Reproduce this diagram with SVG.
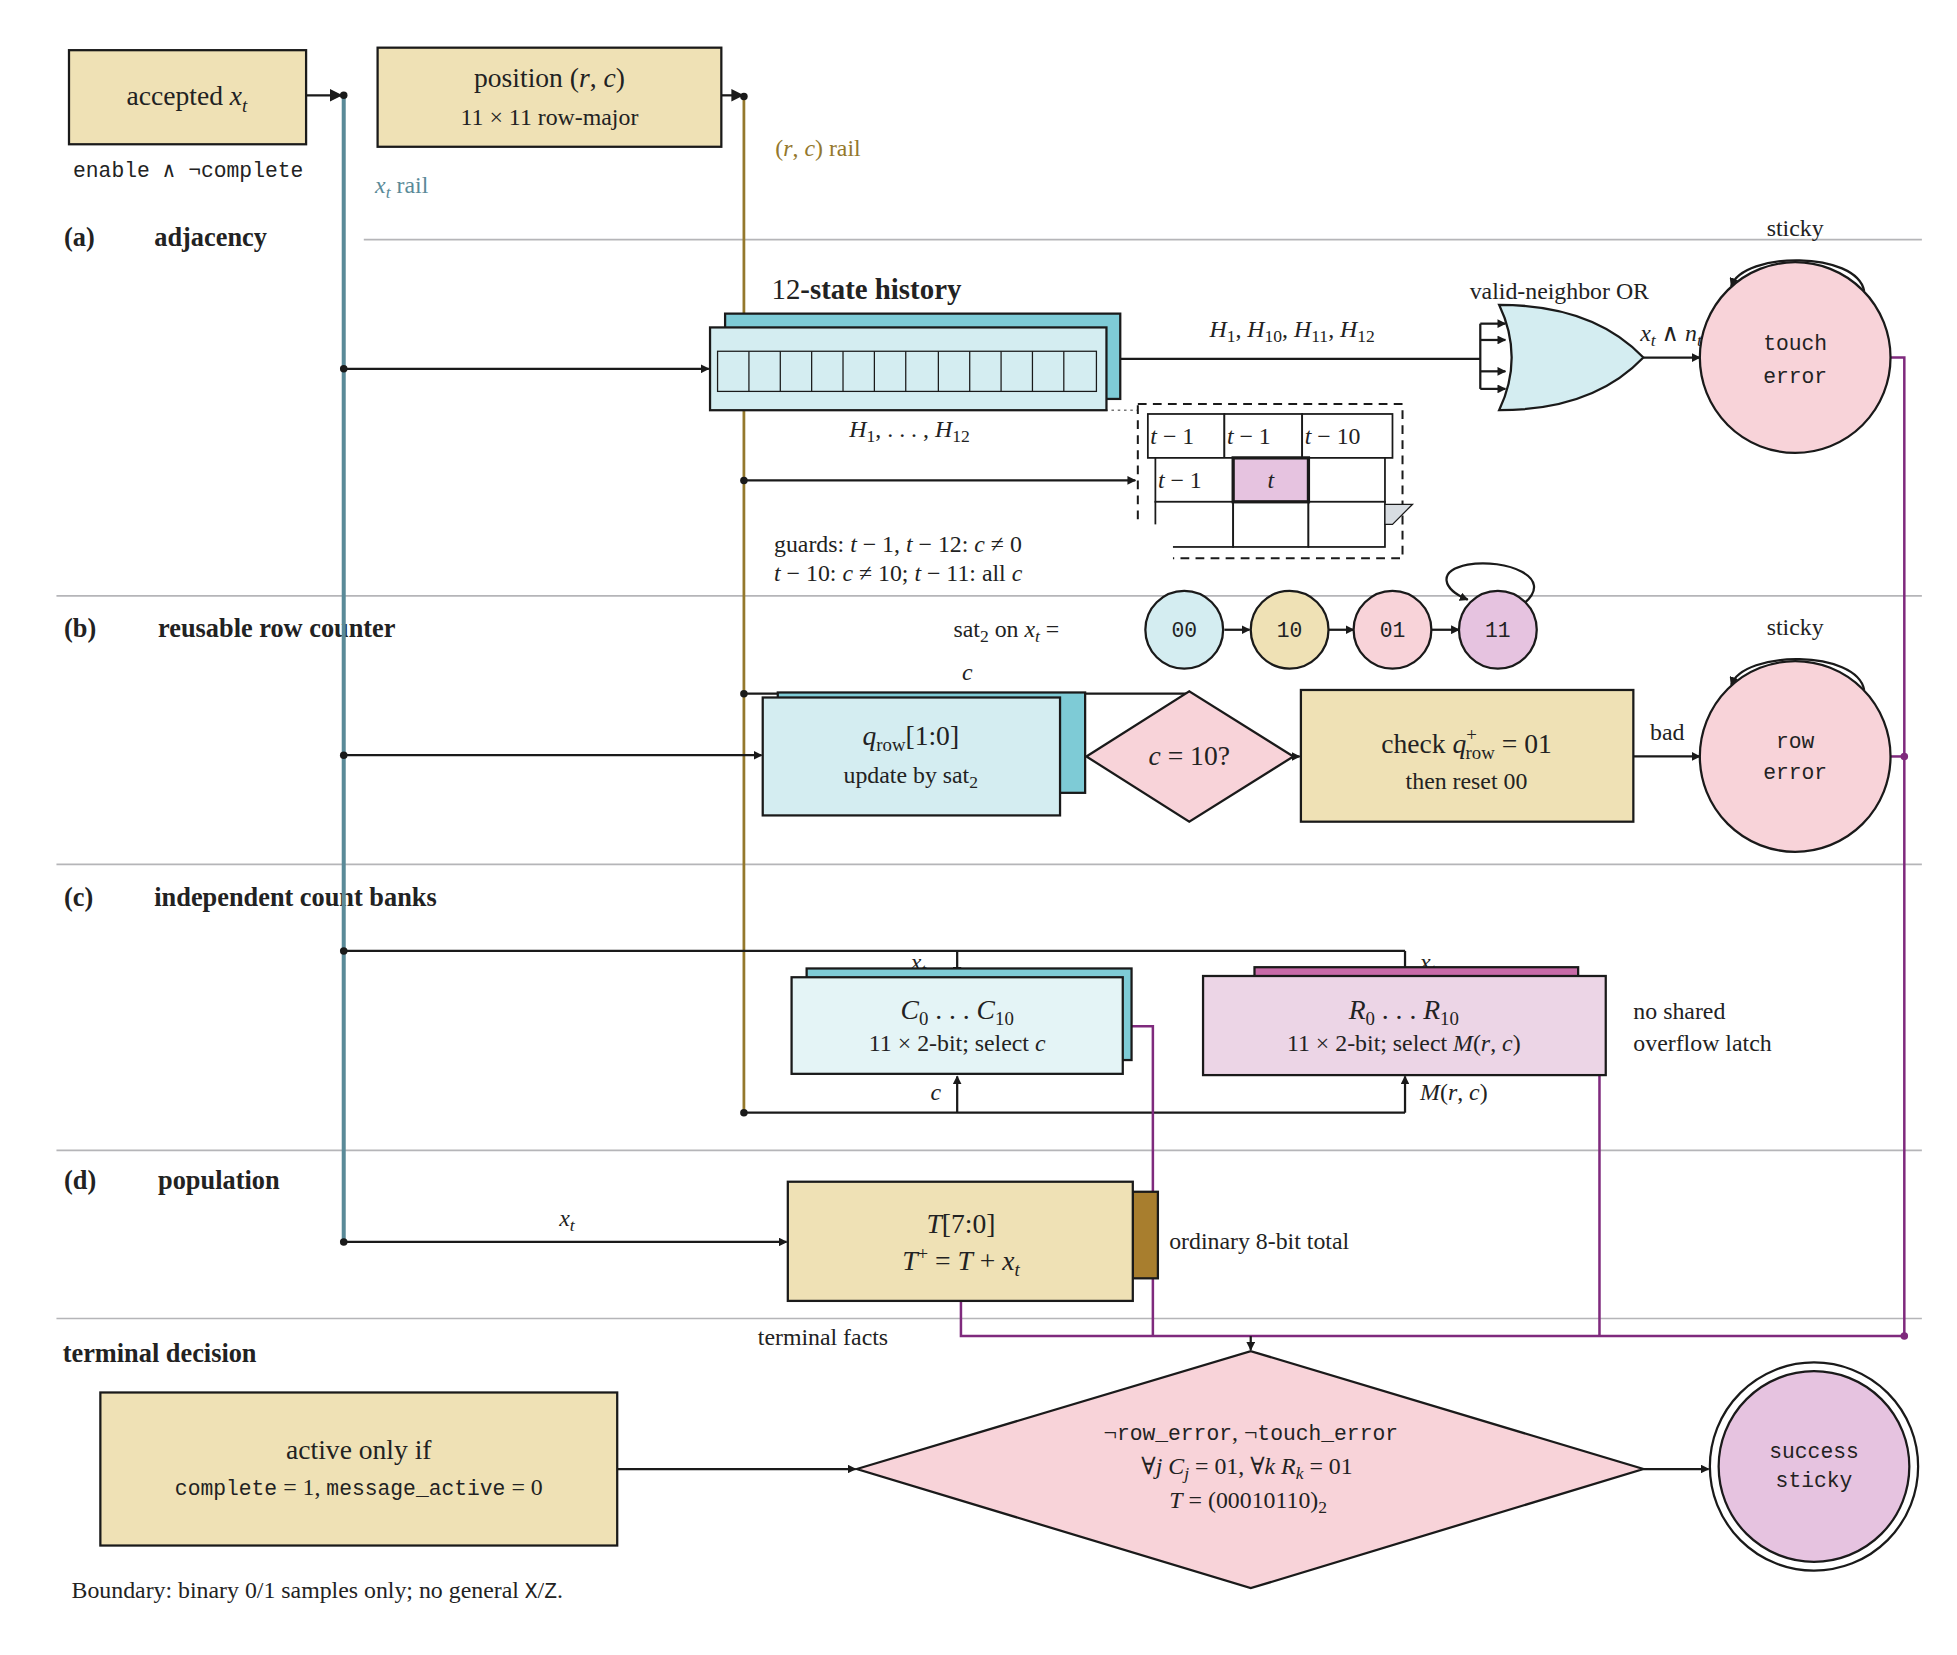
<svg xmlns="http://www.w3.org/2000/svg" width="1957" height="1655" viewBox="0 0 1957 1655">
<defs>
<marker id="ah" viewBox="0 0 10 10" refX="9" refY="5" markerWidth="7" markerHeight="7" markerUnits="userSpaceOnUse" orient="auto"><path d="M0,0 L10,5 L0,10 z" fill="#1a1a1a"/></marker>
<marker id="ahs" viewBox="0 0 10 10" refX="9" refY="5" markerWidth="10" markerHeight="10" markerUnits="userSpaceOnUse" orient="auto"><path d="M0,0 L10,5 L0,10 z" fill="#1a1a1a"/></marker>
<style>
text{font-family:"Liberation Serif","DejaVu Serif",serif;font-size:19px;fill:#222}
.m{font-family:"Liberation Mono","DejaVu Sans Mono",monospace;font-size:17px}
.b{font-weight:bold;font-size:21px}
.i{font-style:italic}
.c{text-anchor:middle}
.ln{stroke:#1a1a1a;stroke-width:1.8;fill:none}
.ar{stroke:#1a1a1a;stroke-width:1.8;fill:none;marker-end:url(#ah)}
.bx{stroke:#1a1a1a;stroke-width:1.8}
.sep{stroke:#b5b5b8;stroke-width:1.3}
.pu{stroke:#7f2a7d;stroke-width:2;fill:none}
.tan{fill:#efe1b5}.lb{fill:#d4edf1}.db{fill:#7ecbd6}.pk{fill:#f8d3d9}.vi{fill:#e6c3e0}
</style>
</defs>
<rect width="1957" height="1655" fill="#fff"/>
<g transform="scale(1.25449)">
<g id="separators">
<line class="sep" x1="290" y1="191" x2="1532" y2="191"/>
<line class="sep" x1="45" y1="475" x2="1532" y2="475"/>
<line class="sep" x1="45" y1="689" x2="1532" y2="689"/>
<line class="sep" x1="45" y1="917" x2="1532" y2="917"/>
<line class="sep" x1="45" y1="1051" x2="1532" y2="1051"/>
</g>
<g id="section-labels">
<text class="b" x="51" y="196">(a)<tspan x="123">adjacency</tspan></text>
<text class="b" x="51" y="508">(b)<tspan x="126">reusable row counter</tspan></text>
<text class="b" x="51" y="722">(c)<tspan x="123">independent count banks</tspan></text>
<text class="b" x="51" y="948">(d)<tspan x="126">population</tspan></text>
<text class="b" x="50" y="1086">terminal decision</text>
</g>
<g id="connectors">
<line x1="274" y1="76" x2="274" y2="990" stroke="#5a8a98" stroke-width="3.2"/>
<line x1="593" y1="77" x2="593" y2="887" stroke="#94782c" stroke-width="2.2"/>
<line class="ar" x1="244" y1="76" x2="272" y2="76" style="marker-end:url(#ahs)"/>
<line class="ar" x1="575" y1="76" x2="592" y2="76" style="marker-end:url(#ahs)"/>
<circle cx="274" cy="76" r="3" fill="#1a1a1a"/><circle cx="593" cy="77" r="3" fill="#1a1a1a"/>
<line class="ar" x1="274" y1="294" x2="565" y2="294"/><circle cx="274" cy="294" r="3" fill="#1a1a1a"/>
<line class="ln" x1="882" y1="286" x2="1180" y2="286"/>
<path class="ln" d="M1180,258 V310"/>
<line class="ar" x1="1180" y1="258" x2="1200" y2="258"/>
<line class="ar" x1="1180" y1="271" x2="1200" y2="271"/>
<line class="ar" x1="1180" y1="296" x2="1200" y2="296"/>
<line class="ar" x1="1180" y1="310" x2="1200" y2="310"/>
<line class="ar" x1="1310" y1="285" x2="1355" y2="285"/>
<path class="ar" d="M1486,232 C1480,200 1390,200 1380,228"/>
<path class="ar" d="M1486,550 C1480,518 1390,518 1380,546"/>
<line x1="866" y1="327" x2="907" y2="327" stroke="#777" stroke-width="1.2" stroke-dasharray="2,3"/>
<line class="ar" x1="593" y1="383" x2="905" y2="383"/><circle cx="593" cy="383" r="3" fill="#1a1a1a"/>
<line class="ar" x1="976" y1="502" x2="996" y2="502"/>
<line class="ar" x1="1059" y1="502" x2="1079" y2="502"/>
<line class="ar" x1="1141" y1="502" x2="1163" y2="502"/>
<path class="ar" d="M1215,481 C1240,460 1200,445 1170,450 C1145,455 1150,470 1170,478"/>
<path class="ar" d="M593,553 H948 V551"/><circle cx="593" cy="553" r="3" fill="#1a1a1a"/>
<line class="ar" x1="274" y1="602" x2="607" y2="602"/><circle cx="274" cy="602" r="3" fill="#1a1a1a"/>
<line class="ar" x1="845" y1="602" x2="865" y2="602"/>
<line class="ar" x1="1031" y1="603" x2="1036" y2="603"/>
<line class="ar" x1="1302" y1="603" x2="1355" y2="603"/>
<path class="ln" d="M274,758 H1120"/><circle cx="274" cy="758" r="3" fill="#1a1a1a"/>
<line class="ar" x1="763" y1="758" x2="763" y2="777"/>
<line class="ar" x1="1120" y1="758" x2="1120" y2="777"/>
<path class="ln" d="M593,887 H1120"/><circle cx="593" cy="887" r="3" fill="#1a1a1a"/>
<line class="ar" x1="763" y1="887" x2="763" y2="858"/>
<line class="ar" x1="1120" y1="887" x2="1120" y2="858"/>
<line class="ar" x1="274" y1="990" x2="627" y2="990"/><circle cx="274" cy="990" r="3" fill="#1a1a1a"/>
<path class="pu" d="M1507,285 H1518 V1065"/>
<path class="pu" d="M1507,603 H1518"/><circle cx="1518" cy="603" r="3" fill="#7f2a7d"/>
<path class="pu" d="M895,818 H919 V1065"/>
<path class="pu" d="M1280,818 H1275 V1065"/>
<path class="pu" d="M766,1037 V1065 H1518"/><circle cx="1518" cy="1065" r="3" fill="#7f2a7d"/>
<line class="ar" x1="997" y1="1065" x2="997" y2="1076"/>
<line class="ar" x1="492" y1="1171" x2="682" y2="1171"/>
<line class="ar" x1="1310" y1="1171" x2="1362" y2="1171"/>
</g>
<g id="accepted"><rect class="bx tan" x="55" y="40" width="189" height="75"/><text class="c" x="149" y="84" style="font-size:22px">accepted <tspan class="i">x</tspan><tspan class="i" dy="5" style="font-size:15px">t</tspan></text>
<text class="m c" x="150" y="141">enable ∧ ¬complete</text></g>
<g id="position"><rect class="bx tan" x="301" y="38" width="274" height="79"/><text class="c" x="438" y="69" style="font-size:22px">position (<tspan class="i">r</tspan>, <tspan class="i">c</tspan>)</text><text class="c" x="438" y="100">11 × 11 row-major</text></g>
<text x="618" y="124" fill="#94782c" style="fill:#94782c">(<tspan class="i">r</tspan>, <tspan class="i">c</tspan>) rail</text>
<text x="299" y="154" style="fill:#5a8a98"><tspan class="i">x</tspan><tspan class="i" dy="4" style="font-size:14px">t</tspan><tspan dy="-4"> rail</tspan></text>
<g id="history">
<text x="615" y="238" style="font-size:23px">12<tspan font-weight="bold">-state history</tspan></text>
<rect class="bx db" x="578" y="250" width="315" height="68"/>
<rect class="bx lb" x="566" y="261" width="316" height="66"/>
<g stroke="#1a1a1a" stroke-width="1" fill="none"><rect x="572" y="280" width="302" height="32"/>
<path d="M597,280V312M622,280V312M647,280V312M672,280V312M697,280V312M722,280V312M748,280V312M773,280V312M798,280V312M823,280V312M848,280V312"/></g>
<text class="c" x="725" y="348"><tspan class="i">H</tspan><tspan dy="4" style="font-size:14px">1</tspan><tspan dy="-4">, . . . , </tspan><tspan class="i">H</tspan><tspan dy="4" style="font-size:14px">12</tspan></text>
<text class="c" x="1030" y="269"><tspan class="i">H</tspan><tspan dy="4" style="font-size:14px">1</tspan><tspan dy="-4">, </tspan><tspan class="i">H</tspan><tspan dy="4" style="font-size:14px">10</tspan><tspan dy="-4">, </tspan><tspan class="i">H</tspan><tspan dy="4" style="font-size:14px">11</tspan><tspan dy="-4">, </tspan><tspan class="i">H</tspan><tspan dy="4" style="font-size:14px">12</tspan></text>
</g>
<g id="or-gate"><path class="bx lb" d="M1195,243 Q1270,243 1310,285 Q1270,327 1195,327 Q1215,285 1195,243 z"/>
<text class="c" x="1243" y="238">valid-neighbor OR</text>
<text class="c" x="1332" y="272"><tspan class="i">x</tspan><tspan class="i" dy="4" style="font-size:14px">t</tspan><tspan dy="-4"> ∧ </tspan><tspan class="i">n</tspan><tspan class="i" dy="4" style="font-size:14px">t</tspan></text></g>
<g id="touch-error"><circle class="bx pk" cx="1431" cy="285" r="76"/><text class="m c" x="1431" y="279">touch</text><text class="m c" x="1431" y="305">error</text><text class="c" x="1431" y="188">sticky</text></g>
<g id="neighborhood">
<rect x="907" y="322" width="211" height="123" fill="none" stroke="#1a1a1a" stroke-width="1.6" stroke-dasharray="7,5"/>
<g stroke="#1a1a1a" stroke-width="1.4" fill="#fff">
<rect x="915" y="330" width="61" height="35"/><rect x="976" y="330" width="62" height="35"/><rect x="1038" y="330" width="72" height="35"/>
<rect x="921" y="365" width="62" height="35"/><rect x="1043" y="365" width="61" height="35"/>
<rect x="921" y="400" width="62" height="36"/><rect x="983" y="400" width="60" height="36"/><rect x="1043" y="400" width="61" height="36"/>
</g>
<rect x="983" y="365" width="60" height="35" class="vi" stroke="#1a1a1a" stroke-width="2.6"/>
<path d="M1104,402 H1126 L1110,418 H1104 z" fill="#d8dde2" stroke="#1a1a1a" stroke-width="1"/>
<text x="917" y="354"><tspan class="i">t</tspan> − 1</text><text x="978" y="354"><tspan class="i">t</tspan> − 1</text><text x="1040" y="354"><tspan class="i">t</tspan> − 10</text>
<text x="923" y="389"><tspan class="i">t</tspan> − 1</text><text class="c i" x="1013" y="389">t</text>
<rect x="615" y="418" width="320" height="48" fill="#fff"/>
<text x="617" y="440">guards: <tspan class="i">t</tspan> − 1, <tspan class="i">t</tspan> − 12: <tspan class="i">c</tspan> ≠ 0</text>
<text x="617" y="463"><tspan class="i">t</tspan> − 10: <tspan class="i">c</tspan> ≠ 10; <tspan class="i">t</tspan> − 11: all <tspan class="i">c</tspan></text>
</g>
<g id="sat2">
<text x="760" y="508">sat<tspan dy="4" style="font-size:14px">2</tspan><tspan dy="-4"> on </tspan><tspan class="i">x</tspan><tspan class="i" dy="4" style="font-size:14px">t</tspan><tspan dy="-4"> =</tspan></text>
<circle class="bx lb" cx="944" cy="502" r="31"/><text class="m c" x="944" y="508">00</text>
<circle class="bx tan" cx="1028" cy="502" r="31"/><text class="m c" x="1028" y="508">10</text>
<circle class="bx pk" cx="1110" cy="502" r="31"/><text class="m c" x="1110" y="508">01</text>
<circle class="bx vi" cx="1194" cy="502" r="31"/><text class="m c" x="1194" y="508">11</text>
</g>
<text class="i c" x="771" y="542">c</text>
<g id="qrow"><rect class="bx db" x="620" y="552" width="245" height="80"/><rect class="bx lb" x="608" y="556" width="237" height="94"/>
<text class="c" x="726" y="594" style="font-size:22px"><tspan class="i">q</tspan><tspan dy="5" style="font-size:15px">row</tspan><tspan dy="-5">[1:0]</tspan></text>
<text class="c" x="726" y="624">update by sat<tspan dy="4" style="font-size:14px">2</tspan></text></g>
<g id="c10"><path class="bx pk" d="M866,603 L948,551 L1031,603 L948,655 z"/><text class="c" x="948" y="610" style="font-size:22px"><tspan class="i">c</tspan> = 10?</text></g>
<g id="check"><rect class="bx tan" x="1037" y="550" width="265" height="105"/>
<text class="c" x="1169" y="600" style="font-size:22px">check <tspan class="i">q</tspan><tspan dy="-9" style="font-size:15px">+</tspan><tspan dx="-9" dy="14" style="font-size:15px">row</tspan><tspan dy="-5"> = 01</tspan></text>
<text class="c" x="1169" y="629">then reset 00</text></g>
<text class="c" x="1329" y="590">bad</text>
<g id="row-error"><circle class="bx pk" cx="1431" cy="603" r="76"/><text class="m c" x="1431" y="596">row</text><text class="m c" x="1431" y="621">error</text><text class="c" x="1431" y="506">sticky</text></g>
<text x="726" y="773"><tspan class="i">x</tspan><tspan class="i" dy="4" style="font-size:14px">t</tspan></text>
<text x="1132" y="773"><tspan class="i">x</tspan><tspan class="i" dy="4" style="font-size:14px">t</tspan></text>
<g id="cbank"><rect class="bx db" x="643" y="772" width="259" height="73"/><rect class="bx" x="631" y="779" width="264" height="77" fill="#e4f4f6"/>
<text class="c" x="763" y="812" style="font-size:22px"><tspan class="i">C</tspan><tspan dy="5" style="font-size:15px">0</tspan><tspan dy="-5"> . . . </tspan><tspan class="i">C</tspan><tspan dy="5" style="font-size:15px">10</tspan></text>
<text class="c" x="763" y="838">11 × 2-bit; select <tspan class="i">c</tspan></text></g>
<g id="rbank"><rect class="bx" x="1000" y="771" width="258" height="12" fill="#c86aa8"/><rect class="bx" x="959" y="778" width="321" height="79" fill="#ecd5e6"/>
<text class="c" x="1119" y="812" style="font-size:22px"><tspan class="i">R</tspan><tspan dy="5" style="font-size:15px">0</tspan><tspan dy="-5"> . . . </tspan><tspan class="i">R</tspan><tspan dy="5" style="font-size:15px">10</tspan></text>
<text class="c" x="1119" y="838">11 × 2-bit; select <tspan class="i">M</tspan>(<tspan class="i">r</tspan>, <tspan class="i">c</tspan>)</text></g>
<text x="1302" y="812">no shared</text><text x="1302" y="838">overflow latch</text>
<text class="i c" x="746" y="877">c</text>
<text x="1132" y="877"><tspan class="i">M</tspan>(<tspan class="i">r</tspan>, <tspan class="i">c</tspan>)</text>
<text class="c" x="452" y="977"><tspan class="i">x</tspan><tspan class="i" dy="4" style="font-size:14px">t</tspan></text>
<g id="total"><rect class="bx" x="903" y="950" width="20" height="69" fill="#a87e2e"/><rect class="bx tan" x="628" y="942" width="275" height="95"/>
<text class="c" x="766" y="983" style="font-size:22px"><tspan class="i">T</tspan>[7:0]</text>
<text class="c" x="766" y="1012" style="font-size:22px"><tspan class="i">T</tspan><tspan dy="-8" style="font-size:15px">+</tspan><tspan dy="8"> = </tspan><tspan class="i">T</tspan> + <tspan class="i">x</tspan><tspan class="i" dy="5" style="font-size:15px">t</tspan></text></g>
<text x="932" y="996">ordinary 8-bit total</text>
<text class="c" x="656" y="1072">terminal facts</text>
<g id="active"><rect class="bx tan" x="80" y="1110" width="412" height="122"/>
<text class="c" x="286" y="1163" style="font-size:22px">active only if</text>
<text class="c" x="286" y="1192"><tspan class="m">complete</tspan> = 1, <tspan class="m">message_active</tspan> = 0</text></g>
<g id="decision"><path class="bx pk" d="M683,1171 L997,1077 L1310,1171 L997,1266 z"/>
<text class="c" x="997" y="1148">¬<tspan class="m">row_error</tspan>, ¬<tspan class="m">touch_error</tspan></text>
<text class="c" x="994" y="1175">∀<tspan class="i">j</tspan> <tspan class="i">C</tspan><tspan class="i" dy="4" style="font-size:14px">j</tspan><tspan dy="-4"> = 01,    ∀</tspan><tspan class="i">k</tspan> <tspan class="i">R</tspan><tspan class="i" dy="4" style="font-size:14px">k</tspan><tspan dy="-4"> = 01</tspan></text>
<text class="c" x="995" y="1202"><tspan class="i">T</tspan> = (00010110)<tspan dy="4" style="font-size:14px">2</tspan></text></g>
<g id="success"><circle cx="1446" cy="1169" r="83" fill="#fff" stroke="#1a1a1a" stroke-width="1.8"/><circle class="bx vi" cx="1446" cy="1169" r="76"/>
<text class="m c" x="1446" y="1162">success</text><text class="m c" x="1446" y="1185">sticky</text></g>
<text x="57" y="1274">Boundary: binary 0/1 samples only; no general <tspan class="m">X</tspan>/<tspan class="m">Z</tspan>.</text>
</g>
</svg>
